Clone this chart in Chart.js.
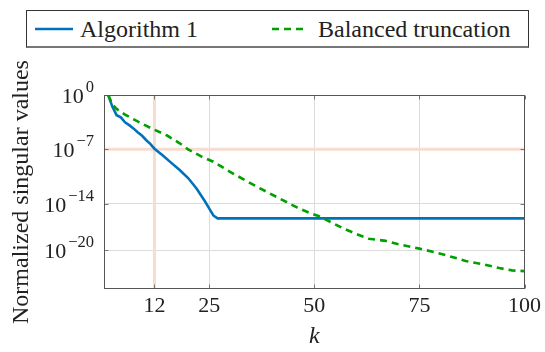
<!DOCTYPE html>
<html>
<head>
<meta charset="utf-8">
<title>Normalized singular values</title>
<script src="https://cdn.jsdelivr.net/npm/chart.js@4.4.0/dist/chart.umd.min.js"></script>
<style>
    html, body { margin: 0; padding: 0; background: #fff; }
    #wrap { position: relative; width: 545px; height: 352px; }
    #legend {
        position: absolute; left: 26px; top: 10px; width: 503px; height: 38px;
        box-sizing: border-box; border: 1px solid #333; border-bottom: 2px solid #777; background: #fff;
        font-family: "Liberation Serif", serif; font-size: 24px; color: #222;
    }
    #legend .item { position: absolute; top: 0; height: 36px; display: flex; align-items: center; white-space: nowrap; }
</style>
</head>
<body>
<div id="wrap">
    <canvas id="svChart"></canvas>
    <div id="legend"></div>
</div>
<script>
document.addEventListener("DOMContentLoaded", () => {

    // ------------------------------------------------------
    // Data
    // ------------------------------------------------------
    const kAlg  = [1, 2, 3, 4, 5, 6, 7, 8, 9, 10, 11, 12, 14, 16, 18, 20, 22, 24, 25, 26, 27, 100];
    const svAlg = [1, 3e-2, 2.5e-3, 1.3e-3, 3e-4, 1.3e-4, 5e-5, 1.6e-5, 6e-6, 1.6e-6, 5e-7, 1.2e-7,
                   1.6e-8, 1.8e-9, 2.2e-10, 2e-11, 9e-13, 2e-14, 2.5e-15, 3e-16, 1.25e-16, 1.25e-16];

    const kBT  = [1, 2, 3, 5, 8, 11, 15, 18, 20, 23, 26, 31, 37, 42, 46, 49, 51, 54, 57, 60,
                  63, 67, 70, 75, 79, 83, 86, 90, 94, 97, 100];
    const svBT = [1, 6e-2, 1.6e-2, 3e-3, 4e-4, 6e-5, 6e-6, 6e-7, 1e-7, 1.3e-8, 2.5e-9, 6e-11, 1e-12,
                  4e-14, 3e-15, 6e-16, 2.5e-16, 4e-17, 6e-18, 1.25e-18, 3e-19, 1.6e-19, 6e-20,
                  1.6e-20, 5e-21, 1.25e-21, 4e-22, 1.6e-22, 5e-23, 2.5e-23, 2e-23];

    const xTicks = [12, 25, 50, 75, 100];
    const yTicks = [1, 1e-7, 1e-14, 1e-20];
    const yTickExp = ["0", "\u22127", "\u221214", "\u221220"];   // shown as 10^exp

    const cutK = 12;      // chosen order
    const tol = 1e-7;     // tolerance

    const BLUE = "#0072BD";
    const GREEN = "#00a000";
    const PINK = "#f7ddd1";
    const FONT = "'Liberation Serif', serif";

    const toPoints = (xs, ys) => xs.map((x, i) => ({ x: x, y: ys[i] }));

    // frame round the plot, inward tick marks and 10^n labels (pgfplots look)
    const framePlugin = {
        id: "frame",
        afterDraw(chart) {
            const { ctx, chartArea: a, scales } = chart;
            const L = Math.round(a.left) + 0.5, R = Math.round(a.right) - 0.5;
            const T = Math.round(a.top) + 0.5, B = Math.round(a.bottom) - 0.5;
            ctx.save();
            ctx.strokeStyle = "#777";
            ctx.lineWidth = 1;
            ctx.beginPath();
            xTicks.forEach(v => {
                const px = Math.round(scales.x.getPixelForValue(v)) + 0.5;
                ctx.moveTo(px, B); ctx.lineTo(px, B - 4);
                ctx.moveTo(px, T); ctx.lineTo(px, T + 4);
            });
            yTicks.forEach(v => {
                const py = Math.round(scales.y.getPixelForValue(v)) + 0.5;
                ctx.moveTo(L, py); ctx.lineTo(L + 4, py);
                ctx.moveTo(R, py); ctx.lineTo(R - 4, py);
            });
            ctx.stroke();
            ctx.strokeStyle = "#555";
            ctx.strokeRect(L, T, R - L, B - T);

            // y tick labels: "10" with a raised exponent
            ctx.fillStyle = "#222";
            ctx.textBaseline = "alphabetic";
            ctx.textAlign = "left";
            yTicks.forEach((v, i) => {
                const py = scales.y.getPixelForValue(v);
                const right = a.left - 10;
                ctx.font = "16.5px " + FONT;
                const we = ctx.measureText(yTickExp[i]).width;
                ctx.font = "22px " + FONT;
                const wb = ctx.measureText("10").width;
                const xe = right - we;
                ctx.fillText("10", xe - wb - 2, py + 8);
                ctx.font = "16.5px " + FONT;
                ctx.fillText(yTickExp[i], xe, py - 3);
            });
            ctx.restore();
        }
    };

    const canvas = document.getElementById("svChart");
    const chart = new Chart(canvas, {
        type: "line",
        data: {
            datasets: [
                {
                    label: "Algorithm 1",
                    data: toPoints(kAlg, svAlg),
                    borderColor: BLUE,
                    borderWidth: 2.6,
                    pointRadius: 0,
                    tension: 0,
                    order: 1
                },
                {
                    label: "Balanced truncation",
                    data: toPoints(kBT, svBT),
                    borderColor: GREEN,
                    borderWidth: 2.6,
                    borderDash: [7, 5],
                    pointRadius: 0,
                    tension: 0,
                    order: 0
                },
                {
                    label: "",
                    data: [{ x: cutK, y: 1e-25 }, { x: cutK, y: 1 }],
                    borderColor: PINK,
                    borderWidth: 3,
                    pointRadius: 0,
                    order: 2
                },
                {
                    label: "",
                    data: [{ x: 0, y: tol }, { x: 100, y: tol }],
                    borderColor: PINK,
                    borderWidth: 3,
                    pointRadius: 0,
                    order: 2
                }
            ]
        },
        options: {
            responsive: true,
            maintainAspectRatio: false,
            animation: false,
            layout: { padding: { top: 95, right: 18, bottom: 0, left: 0 } },
            plugins: {
                legend: { display: false },
                tooltip: { enabled: false }
            },
            scales: {
                x: {
                    type: "linear",
                    min: 0,
                    max: 100,
                    afterBuildTicks: scale => { scale.ticks = xTicks.map(v => ({ value: v })); },
                    afterFit: scale => { scale.height = 63; },
                    grid: { color: "#dcdcdc", lineWidth: 1, drawTicks: false },
                    border: { display: false },
                    ticks: {
                        padding: 4,
                        color: "#222",
                        maxRotation: 0,
                        font: { family: FONT, size: 22 }
                    },
                    title: {
                        display: true,
                        text: "k",
                        color: "#222",
                        font: { family: FONT, size: 24, style: "italic" },
                        padding: { top: 0, bottom: 1 }
                    }
                },
                y: {
                    type: "logarithmic",
                    min: 1e-25,
                    max: 1,
                    afterBuildTicks: scale => { scale.ticks = yTicks.map(v => ({ value: v })); },
                    afterFit: scale => { scale.width = 104; },
                    grid: { color: "#dcdcdc", lineWidth: 1, drawTicks: false },
                    border: { display: false },
                    ticks: { display: false },
                    title: {
                        display: true,
                        text: "Normalized singular values",
                        color: "#222",
                        font: { family: FONT, size: 24 },
                        padding: { top: 7, bottom: 0 }
                    }
                }
            }
        },
        plugins: [framePlugin]
    });

    // ------------------------------------------------------
    // Boxed legend (built from the two curve datasets)
    // ------------------------------------------------------
    const legendEl = document.getElementById("legend");
    const itemLeft = [8, 245];
    const sampleW = [38, 35];
    const gapW = [7, 11];
    chart.data.datasets.slice(0, 2).forEach((ds, i) => {
        const item = document.createElement("div");
        item.className = "item";
        item.style.left = itemLeft[i] + "px";
        const dash = ds.borderDash ? ds.borderDash.join(" ") : "none";
        item.innerHTML =
            '<svg width="' + sampleW[i] + '" height="6" style="margin-right:' + gapW[i] + 'px">' +
            '<line x1="0" y1="3" x2="40" y2="3" stroke="' + ds.borderColor + '" stroke-width="' +
            ds.borderWidth + '" stroke-dasharray="' + dash + '"/></svg>' +
            '<span>' + ds.label + '</span>';
        legendEl.appendChild(item);
    });
});
</script>
</body>
</html>
